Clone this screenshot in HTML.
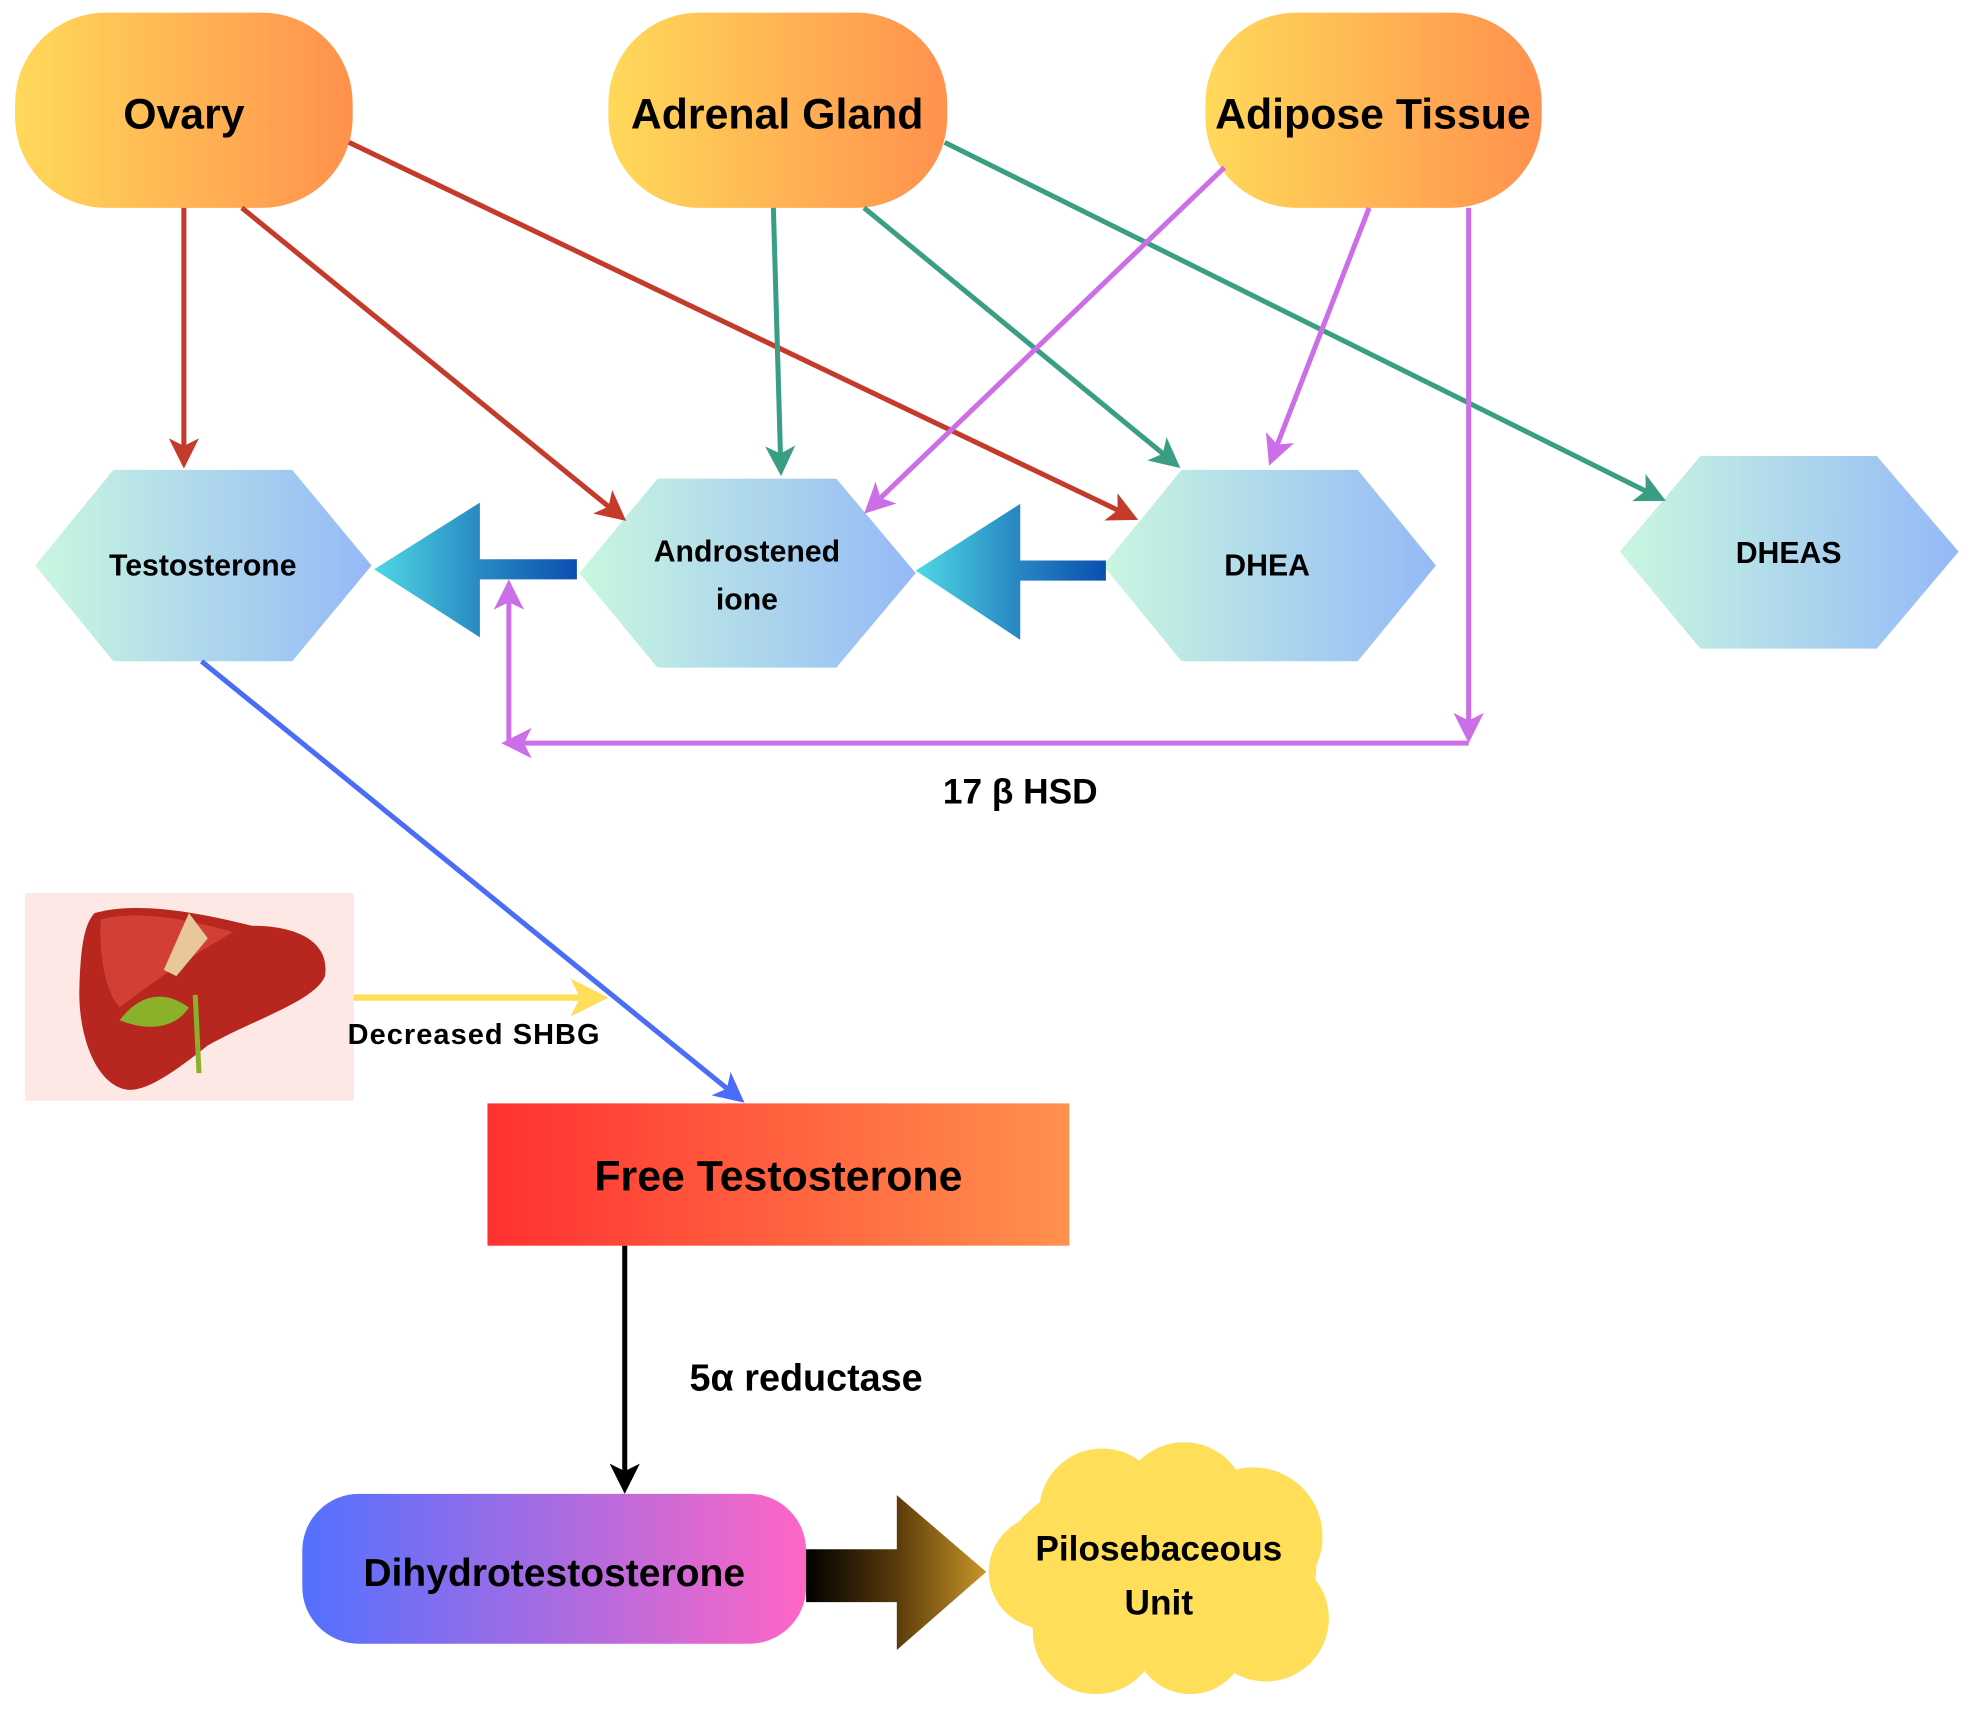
<!DOCTYPE html>
<html><head><meta charset="utf-8"><style>html,body{margin:0;padding:0;background:#fff}svg{display:block}</style></head>
<body>
<svg width="1975" height="1713" viewBox="0 0 1568 1360" preserveAspectRatio="none" xmlns="http://www.w3.org/2000/svg" font-family="Liberation Sans, sans-serif" font-weight="bold">
<defs>
<linearGradient id="og" x1="0" x2="1"><stop offset="0" stop-color="#ffd95a"/><stop offset="1" stop-color="#ff914d"/></linearGradient>
<linearGradient id="hg" x1="0" x2="1"><stop offset="0" stop-color="#c9f7e0"/><stop offset="1" stop-color="#94b9f7"/></linearGradient>
<linearGradient id="bg1" gradientUnits="userSpaceOnUse" x1="297" y1="0" x2="458" y2="0"><stop offset="0" stop-color="#4fd8e6"/><stop offset="0.5" stop-color="#2a8cc4"/><stop offset="1" stop-color="#0a4fb0"/></linearGradient>
<linearGradient id="bg2" gradientUnits="userSpaceOnUse" x1="727" y1="0" x2="878" y2="0"><stop offset="0" stop-color="#4fd8e6"/><stop offset="0.5" stop-color="#2a8cc4"/><stop offset="1" stop-color="#0a4fb0"/></linearGradient>
<linearGradient id="fg" x1="0" x2="1"><stop offset="0" stop-color="#ff3131"/><stop offset="1" stop-color="#ff914d"/></linearGradient>
<linearGradient id="dg" x1="0" x2="1"><stop offset="0" stop-color="#5271ff"/><stop offset="1" stop-color="#ff66c4"/></linearGradient>
<linearGradient id="kg" gradientUnits="userSpaceOnUse" x1="640" y1="0" x2="783" y2="0"><stop offset="0" stop-color="#000"/><stop offset="0.5" stop-color="#5a3a0a"/><stop offset="1" stop-color="#c9962a"/></linearGradient>
<marker id="mr" markerWidth="6" markerHeight="6" refX="5" refY="3" orient="auto" markerUnits="strokeWidth"><path d="M0,0 L6,3 L0,6 L1.5,3z" fill="#c43a2b"/></marker>
<marker id="mg" markerWidth="6" markerHeight="6" refX="5" refY="3" orient="auto" markerUnits="strokeWidth"><path d="M0,0 L6,3 L0,6 L1.5,3z" fill="#3a9e85"/></marker>
<marker id="mp" markerWidth="6" markerHeight="6" refX="5" refY="3" orient="auto" markerUnits="strokeWidth"><path d="M0,0 L6,3 L0,6 L1.5,3z" fill="#cc6ee8"/></marker>
<marker id="mb" markerWidth="6" markerHeight="6" refX="5" refY="3" orient="auto" markerUnits="strokeWidth"><path d="M0,0 L6,3 L0,6 L1.5,3z" fill="#4a6cf7"/></marker>
<marker id="mk" markerWidth="6" markerHeight="6" refX="5" refY="3" orient="auto" markerUnits="strokeWidth"><path d="M0,0 L6,3 L0,6 L1.5,3z" fill="#000"/></marker>
<marker id="my" markerWidth="6" markerHeight="6" refX="5" refY="3" orient="auto" markerUnits="strokeWidth"><path d="M0,0 L6,3 L0,6 L1.5,3z" fill="#ffde59"/></marker>
</defs>

<rect x="12" y="10" width="268" height="155" rx="72" fill="url(#og)"/>
<rect x="483" y="10" width="269" height="155" rx="72" fill="url(#og)"/>
<rect x="957" y="10" width="267" height="155" rx="72" fill="url(#og)"/>
<text x="146" y="102" font-size="34" text-anchor="middle">Ovary</text>
<text x="617" y="102" font-size="34" text-anchor="middle">Adrenal Gland</text>
<text x="1090" y="102" font-size="34" text-anchor="middle">Adipose Tissue</text>

<polygon points="28,449 90,373 232,373 295,449 232,525 90,525" fill="url(#hg)"/>
<polygon points="460,455 522,380 664,380 727,455 664,530 522,530" fill="url(#hg)"/>
<polygon points="876,449 938,373 1078,373 1140,449 1078,525 938,525" fill="url(#hg)"/>
<polygon points="1286,438 1350,362 1490,362 1555,438 1490,515 1350,515" fill="url(#hg)"/>
<text x="161" y="457" font-size="24" text-anchor="middle">Testosterone</text>
<text x="593" y="446" font-size="24" text-anchor="middle">Androstened</text>
<text x="593" y="484" font-size="24" text-anchor="middle">ione</text>
<text x="1006" y="457" font-size="24" text-anchor="middle">DHEA</text>
<text x="1420" y="447" font-size="24" text-anchor="middle">DHEAS</text>

<path d="M297,452 L381,399 L381,444 L458,444 L458,460 L381,460 L381,506z" fill="url(#bg1)"/>
<path d="M727,453 L810,400 L810,445 L878,445 L878,461 L810,461 L810,508z" fill="url(#bg2)"/>

<g stroke="#c43a2b" stroke-width="4" fill="none">
<line x1="146" y1="165" x2="146" y2="368" marker-end="url(#mr)"/>
<line x1="192" y1="165" x2="494" y2="411" marker-end="url(#mr)"/>
<line x1="277" y1="113" x2="900" y2="411" marker-end="url(#mr)"/>
</g>
<g stroke="#3a9e85" stroke-width="4" fill="none">
<line x1="614" y1="165" x2="620" y2="374" marker-end="url(#mg)"/>
<line x1="686" y1="165" x2="934" y2="369" marker-end="url(#mg)"/>
<line x1="750" y1="113" x2="1319" y2="396" marker-end="url(#mg)"/>
</g>
<g stroke="#cc6ee8" stroke-width="4" fill="none">
<line x1="972" y1="133" x2="689" y2="405" marker-end="url(#mp)"/>
<line x1="1087" y1="165" x2="1009" y2="366" marker-end="url(#mp)"/>
<line x1="1166" y1="165" x2="1166" y2="586" marker-end="url(#mp)"/>
<line x1="1166" y1="590" x2="402" y2="590" marker-end="url(#mp)"/>
<line x1="404" y1="590" x2="404" y2="464" marker-end="url(#mp)"/>
</g>
<text x="810" y="638" font-size="28" text-anchor="middle">17 β HSD</text>

<line x1="160" y1="525" x2="588" y2="873" stroke="#4a6cf7" stroke-width="4" marker-end="url(#mb)"/>

<rect x="20" y="709" width="261" height="165" fill="#fde8e6"/>
<path d="M75,725 C110,715 160,725 200,735 C240,735 262,750 258,775 C250,795 200,810 165,830 C140,850 115,868 100,865 C75,860 62,820 63,785 C64,755 66,735 75,725z" fill="#b8271f"/>
<path d="M80,730 C110,722 150,730 185,740 C150,760 120,780 95,800 C85,790 78,760 80,730z" fill="#d8463a" opacity="0.8"/>
<path d="M150,725 L165,745 L140,775 L130,770z" fill="#e8c79a"/>
<path d="M95,810 C110,790 130,785 150,800 C140,815 120,820 95,810z" fill="#8bb02a"/>
<line x1="155" y1="790" x2="158" y2="852" stroke="#8bb02a" stroke-width="4"/>

<line x1="281" y1="792" x2="478" y2="792" stroke="#ffde59" stroke-width="5" marker-end="url(#my)"/>
<text x="376" y="829" font-size="23" text-anchor="middle" textLength="200">Decreased SHBG</text>

<rect x="387" y="876" width="462" height="113" fill="url(#fg)"/>
<text x="618" y="945" font-size="34" text-anchor="middle">Free Testosterone</text>

<line x1="496" y1="989" x2="496" y2="1182" stroke="#000" stroke-width="4" marker-end="url(#mk)"/>
<text x="640" y="1104" font-size="30" text-anchor="middle">5α reductase</text>

<rect x="240" y="1186" width="400" height="119" rx="45" fill="url(#dg)"/>
<text x="440" y="1259" font-size="31" text-anchor="middle">Dihydrotestosterone</text>

<path d="M640,1230 L712,1230 L712,1187 L783,1248 L712,1310 L712,1272 L640,1272z" fill="url(#kg)"/>

<g fill="#ffde59">
<ellipse cx="920" cy="1245" rx="125" ry="80"/>
<circle cx="875" cy="1200" r="50"/>
<circle cx="940" cy="1195" r="50"/>
<circle cx="995" cy="1220" r="55"/>
<circle cx="1005" cy="1285" r="50"/>
<circle cx="945" cy="1300" r="45"/>
<circle cx="870" cy="1295" r="50"/>
<circle cx="830" cy="1248" r="45"/>
</g>
<text x="920" y="1239" font-size="28" text-anchor="middle">Pilosebaceous</text>
<text x="920" y="1282" font-size="28" text-anchor="middle">Unit</text>
</svg>
</body></html>
